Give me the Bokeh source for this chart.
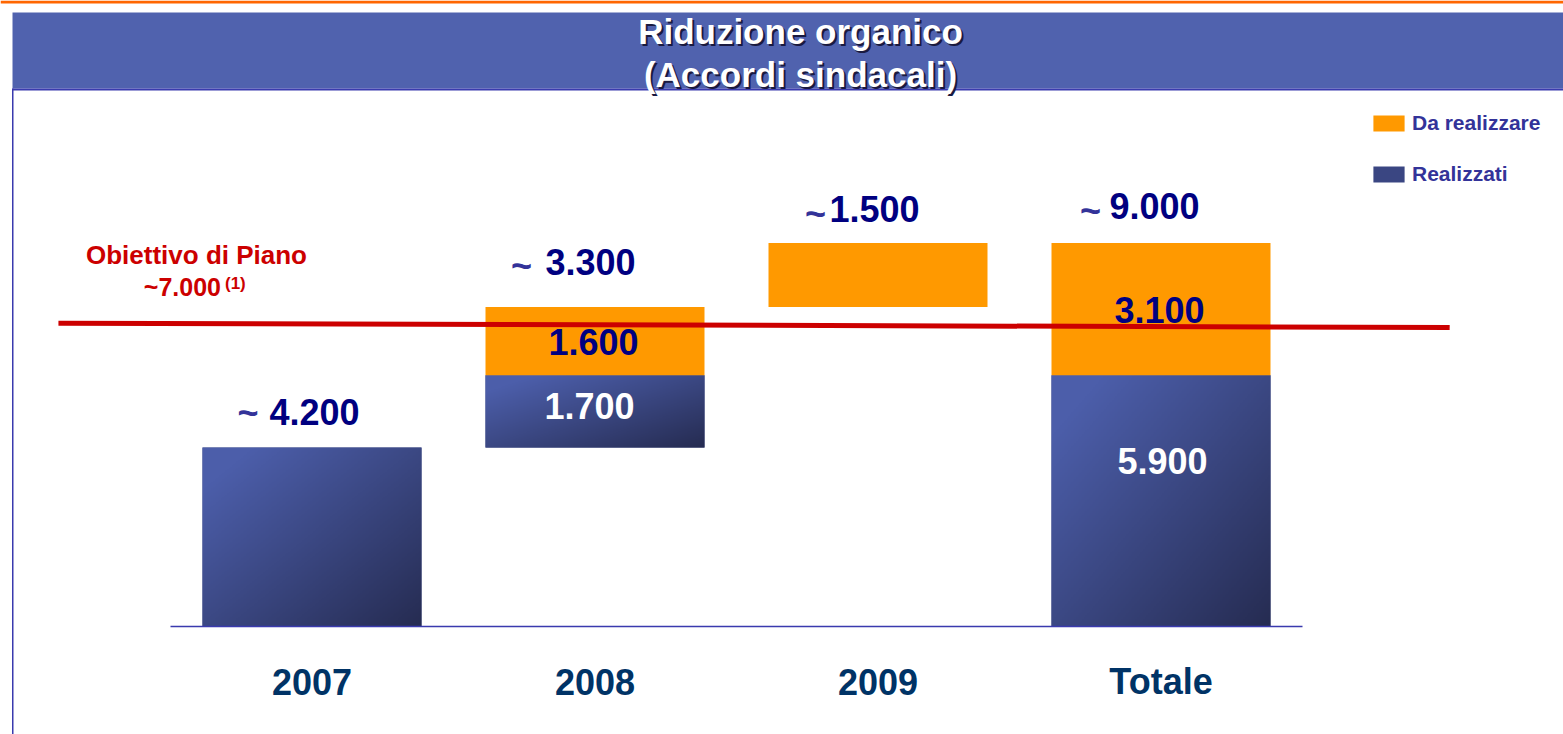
import numpy as np
from bokeh.plotting import figure
from bokeh.models import Range1d, Label, BoxAnnotation, Legend, LegendItem
from bokeh.core.properties import value
from bokeh.embed import file_html
from bokeh.resources import INLINE

# ---------------- data ----------------
categories = ["2007", "2008", "2009", "Totale"]
realizzati = [4200, 1700, 0, 5900]          # blue part
da_realizzare = [0, 1600, 1500, 3100]        # orange part
totali = [4200, 3300, 1500, 9000]            # "~" totals above bars
inner_label_cats = ["2008", "Totale"]        # bars whose segments carry a value
piano_line = [7120, 7020]                    # red "Obiettivo di Piano" line (start, end)
piano_title = "Obiettivo di Piano"
piano_value = "~7.000"
piano_note = "(1)"
title_lines = ["Riduzione organico", "(Accordi sindacali)"]
legend_labels = ["Da realizzare", "Realizzati"]

# ---------------- layout / style ----------------
W, H = 1563, 734
PXU = 0.0426          # pixels per unit
BASE = 626.0          # baseline, px from top of figure
STEP = 283.0          # px between categories
X0 = 311.5            # px of first category centre
BAR_W = 219 / 283

def px2x(px):
    return (px - X0) / STEP

def px2y(py):
    return (BASE - py) / PXU

FONT = "Liberation Sans"
NAVY = "#000080"
TILDE = "#333399"
ORANGE = "#FF9900"
BLUE_MID = "#3A4682"
CAT_COL = "#003366"
RED = "#CC0000"
BAND = "#5062AE"
BORDER = "#3A3AAE"

def fmt(v):
    return f"{int(v):,}".replace(",", ".")

n = len(categories)
xs = np.arange(n, dtype=float)
tot = np.array(totali, dtype=float)
bases = np.zeros(n)
bases[1:n - 1] = np.cumsum(tot[:n - 2])      # waterfall offsets, Totale restarts at 0
blue_bot = bases
blue_top = bases + np.array(realizzati, dtype=float)
or_bot = blue_top
or_top = or_bot + np.array(da_realizzare, dtype=float)

p = figure(width=W, height=H,
           x_range=Range1d(px2x(0), px2x(W)), y_range=Range1d(px2y(H), px2y(0)),
           output_backend="svg", toolbar_location=None,
           x_axis_location=None, y_axis_location=None,
           min_border=0, outline_line_color=None,
           background_fill_color="white", border_fill_color="white")
p.grid.visible = False

# ---------------- page decoration ----------------
p.add_layout(BoxAnnotation(left=px2x(0), right=px2x(W), top=px2y(0), bottom=px2y(3),
                           fill_color="#FF6600", fill_alpha=1, line_color=None))
p.add_layout(BoxAnnotation(left=px2x(12), right=px2x(W + 5), top=px2y(12), bottom=px2y(88),
                           fill_color=BAND, fill_alpha=1, line_color=None))
p.add_layout(BoxAnnotation(left=px2x(12), right=px2x(W + 5), top=px2y(88), bottom=px2y(90),
                           fill_color=BORDER, fill_alpha=1, line_color=None))
p.add_layout(BoxAnnotation(left=px2x(11.5), right=px2x(13), top=px2y(88), bottom=px2y(H + 5),
                           fill_color=BORDER, fill_alpha=1, line_color=None))

title_mid = [30.5, 73.5]
for line, b in zip(title_lines, title_mid):
    p.add_layout(Label(x=px2x(800 + 2), y=px2y(b + 2), text=line, text_align="center",
                       text_baseline="middle", text_font=FONT, text_font_style="bold",
                       text_font_size="35px", text_color="#1A1A40"))
    p.add_layout(Label(x=px2x(800), y=px2y(b), text=line, text_align="center",
                       text_baseline="middle", text_font=FONT, text_font_style="bold",
                       text_font_size="35px", text_color="white"))

# ---------------- bars ----------------
bm = np.array(realizzati) > 0
blue_r = p.vbar(x=xs[bm], bottom=blue_bot[bm], top=blue_top[bm], width=BAR_W,
                fill_color=BLUE_MID, line_color=None)

def gradient(nx=140, ny=140):
    u = np.linspace(0, 1, nx)[None, :]
    v = np.linspace(0, 1, ny)[:, None]          # row 0 = bottom
    s = (u + (1 - v)) / 2
    t = np.clip((s - 0.12) / 0.88, 0, 1)[..., None]
    light = np.array([76, 94, 170], dtype=float)
    dark = np.array([38, 44, 82], dtype=float)
    rgb = light * (1 - t) + dark * t
    img = np.empty((ny, nx), dtype=np.uint32)
    view = img.view(dtype=np.uint8).reshape((ny, nx, 4))
    view[..., :3] = rgb.astype(np.uint8)
    view[..., 3] = 255
    return img

g = gradient()
p.image_rgba(image=[g] * int(bm.sum()), x=list(xs[bm] - BAR_W / 2), y=list(blue_bot[bm]),
             dw=[BAR_W] * int(bm.sum()), dh=list((blue_top - blue_bot)[bm]))

om = np.array(da_realizzare) > 0
orange_r = p.vbar(x=xs[om], bottom=or_bot[om], top=or_top[om], width=BAR_W,
                  fill_color=ORANGE, line_color=None)

# baseline (category axis line)
p.line(x=[xs[0] - 0.5, xs[-1] + 0.5], y=[0, 0], line_color=BORDER, line_width=1.5)

# ---------------- labels ----------------
# category labels
p.text(x=xs, y=[0] * n, text=categories, text_font=value(FONT), text_font_style="bold",
       text_font_size="36px", text_color=CAT_COL, text_align="center",
       text_baseline="middle", y_offset=55)

# totals above bars
tot_dx = [2.5, -4.5, -3.5, -6.5]
tot_dy = [-35.2, -44.9, -34.2, -37.5]
p.text(x=xs, y=or_top, text=[fmt(v) for v in totali], text_font=value(FONT),
       text_font_style="bold", text_font_size="36px", text_color=NAVY,
       text_align="center", text_baseline="middle", x_offset=tot_dx, y_offset=tot_dy)
tilde_dx = [-64, -73.5, -62.5, -70.5]
tilde_dy = [-35, -42, -30, -33]
p.text(x=xs, y=or_top, text=["~"] * n, text_font=value(FONT), text_font_style="bold",
       text_font_size="36px", text_color=TILDE, text_align="center",
       text_baseline="middle", x_offset=tilde_dx, y_offset=tilde_dy)

# values inside segments
idx = [categories.index(c) for c in inner_label_cats]
in_x, in_y, in_t, in_c, in_dx, in_dy = [], [], [], [], [], []
seg_style = {  # (dx, dy from segment centre)
    ("2008", "o"): (-1.5, 0.8), ("2008", "b"): (-5.5, -5.5),
    ("Totale", "o"): (-1.5, 0.5), ("Totale", "b"): (1.5, -40.0),
}
for i in idx:
    c = categories[i]
    in_x += [xs[i], xs[i]]
    in_y += [(or_bot[i] + or_top[i]) / 2, (blue_bot[i] + blue_top[i]) / 2]
    in_t += [fmt(da_realizzare[i]), fmt(realizzati[i])]
    in_c += [NAVY, "white"]
    in_dx += [seg_style[(c, "o")][0], seg_style[(c, "b")][0]]
    in_dy += [seg_style[(c, "o")][1], seg_style[(c, "b")][1]]
p.text(x=in_x, y=in_y, text=in_t, text_color=in_c, text_font=value(FONT),
       text_font_style="bold", text_font_size="36px", text_align="center",
       text_baseline="middle", x_offset=in_dx, y_offset=in_dy)

# red target line
p.line(x=[xs[0] - 0.896, xs[-1] + 1.02], y=piano_line, line_color=RED, line_width=5)

p.add_layout(Label(x=px2x(196), y=px2y(254), text=piano_title, text_align="center",
                   text_baseline="middle", text_font=FONT, text_font_style="bold",
                   text_font_size="26px", text_color=RED))
p.add_layout(Label(x=px2x(220.5), y=px2y(286), text=piano_value, text_align="right",
                   text_baseline="middle", text_font=FONT, text_font_style="bold",
                   text_font_size="25px", text_color=RED))
p.add_layout(Label(x=px2x(224.5), y=px2y(282.5), text=piano_note, text_align="left",
                   text_baseline="middle", text_font=FONT, text_font_style="bold",
                   text_font_size="17px", text_color=RED))

# ---------------- legend ----------------
legend = Legend(items=[LegendItem(label=legend_labels[0], renderers=[orange_r]),
                       LegendItem(label=legend_labels[1], renderers=[blue_r])],
                location=(1369, 548), orientation="vertical",
                glyph_width=39, glyph_height=20, label_standoff=4, spacing=27,
                padding=0, margin=0, border_line_color=None, background_fill_alpha=0,
                label_text_font=FONT, label_text_font_style="bold",
                label_text_font_size="21px", label_text_color="#333399")
p.add_layout(legend)

open("out.html", "w").write(file_html(p, INLINE))
